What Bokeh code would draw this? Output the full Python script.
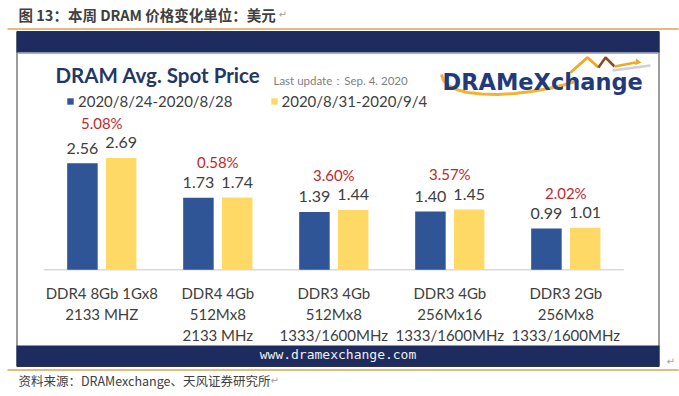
import numpy as np
from bokeh.plotting import figure
from bokeh.models import Range1d, ColumnDataSource, Legend, LegendItem, Label
from bokeh.core.properties import value
from bokeh.embed import file_html
from bokeh.resources import INLINE

# ---------------- data ----------------
categories = [
    "DDR4 8Gb 1Gx8\n2133 MHZ",
    "DDR4 4Gb\n512Mx8\n2133 MHz",
    "DDR3 4Gb\n512Mx8\n1333/1600MHz",
    "DDR3 4Gb\n256Mx16\n1333/1600MHz",
    "DDR3 2Gb\n256Mx8\n1333/1600MHz",
]
series_names = ["2020/8/24-2020/8/28", "2020/8/31-2020/9/4"]
prev_week = [2.56, 1.73, 1.39, 1.40, 0.99]
this_week = [2.69, 1.74, 1.44, 1.45, 1.01]
changes = ["5.08%", "0.58%", "3.60%", "3.57%", "2.02%"]

fig_title = "图 13：本周 DRAM 价格变化单位：美元"
source_note = "资料来源：DRAMexchange、天风证券研究所"
chart_title = "DRAM Avg. Spot Price"
update_note = "Last update：Sep. 4. 2020"
brand = "DRAMeXchange"
website = "www.dramexchange.com"

# ---------------- layout / style ----------------
W, H = 679, 396
PITCH = 116.0      # px per category
X0 = 101.3         # canvas x of first category centre
BASE = 269.3       # canvas y of value 0
PXU = 41.6         # px per unit
OFF = 0.167        # bar offset in category units
BW = 0.263         # bar width in category units

BLUE = "#2F5597"
YELLOW = "#FFD966"
NAVY = "#1D2B5E"
ORANGE = "#E5A150"
TXT = "#404040"
RED = "#C0282E"

p = figure(width=W, height=H, title=None,
           x_range=Range1d(-X0 / PITCH, (W - X0) / PITCH),
           y_range=Range1d(-(H - BASE) / PXU, BASE / PXU),
           output_backend="svg", toolbar_location=None,
           x_axis_location=None, y_axis_location=None,
           min_border=0, outline_line_color=None,
           background_fill_color="white", border_fill_color="white")
p.grid.visible = False
p.extra_x_ranges = {"px": Range1d(0, W)}
p.extra_y_ranges = {"px": Range1d(H, 0)}
PX = dict(x_range_name="px", y_range_name="px")

# ---------------- frame decorations ----------------
p.segment(x0=[7, 7], x1=[678, 678], y0=[28.5, 369.5], y1=[28.5, 369.5],
          line_color=ORANGE, line_width=1.5, **PX)
p.quad(left=[16.5], right=[658.5], top=[31], bottom=[366],
       fill_color="white", line_color="#3A3A3A", line_width=1, **PX)
p.quad(left=[16, 16], right=[659, 659], top=[31, 345], bottom=[52, 366],
       fill_color=NAVY, line_color=None, **PX)
p.segment(x0=[17], x1=[658], y0=[53], y1=[53], line_color="#A8AEC4", line_width=1, **PX)

# logo swoosh (drawn early, behind everything else)
swoosh_x = [441, 443, 448, 456, 467, 481, 497, 514, 531, 548, 563, 578]
swoosh_y = [74, 80, 85, 89, 92, 93.5, 94, 93, 91, 88, 84.5, 80]
p.line(x=swoosh_x, y=swoosh_y, line_color="#F2B233", line_width=3, **PX)
p.line(x=[612, 650], y=[70, 65], line_color="#D0D0D0", line_width=2.5, **PX)
p.line(x=[570, 587, 598], y=[72, 57, 67], line_color="#EFA92A", line_width=3, **PX)
p.line(x=[598, 605, 614], y=[67, 57, 66], line_color="#8B4A1E", line_width=2.5, **PX)
p.line(x=[614, 635], y=[66, 62], line_color="#EFA92A", line_width=2.5, **PX)
p.scatter(x=[637], y=[61.5], marker="triangle", angle=-1.75, size=7,
          fill_color="#EFA92A", line_color=None, **PX)

# baseline
idx = np.arange(len(categories))
p.segment(x0=[idx[0] - 0.5], x1=[idx[-1] + 0.5], y0=[0], y1=[0],
          line_color="#D9D9D9", line_width=1.5)

# ---------------- bars ----------------
src = ColumnDataSource(dict(
    x=idx, xa=idx - OFF, xb=idx + OFF,
    prev=prev_week, cur=this_week,
    prev_lbl=[f"{v:.2f}" for v in prev_week],
    cur_lbl=[f"{v:.2f}" for v in this_week],
    top=np.maximum(prev_week, this_week),
    chg=changes, cat=categories,
))
r1 = p.vbar(x="xa", top="prev", width=BW, source=src, fill_color=BLUE, line_color=None)
r2 = p.vbar(x="xb", top="cur", width=BW, source=src, fill_color=YELLOW, line_color=None)

lbl = dict(text_font=value("Lato"), text_font_size="16px", text_color=TXT,
           text_align="center", text_baseline="middle", y_offset=-15)
p.text(x="xa", y="prev", text="prev_lbl", source=src, **lbl)
p.text(x="xb", y="cur", text="cur_lbl", source=src, **lbl)
p.text(x="x", y="top", text="chg", source=src, text_font=value("Lato"),
       text_font_size="15px", text_color=RED, text_align="center",
       text_baseline="middle", y_offset=-35)

# category labels
p.text(x="x", y=283, text="cat", source=src, y_range_name="px",
       text_font=value("Lato"), text_font_size="15px", text_color=TXT,
       text_align="center", text_baseline="top", text_line_height=1.18)

# ---------------- legend ----------------
legend = Legend(items=[LegendItem(label=series_names[0], renderers=[r1]),
                       LegendItem(label=series_names[1], renderers=[r2])],
                orientation="horizontal", location=(66, H - 110),
                border_line_color=None, background_fill_alpha=0,
                padding=0, margin=0, spacing=37,
                glyph_width=8, glyph_height=8, label_standoff=4,
                label_height=16,
                label_text_font="Lato", label_text_font_size="15px",
                label_text_color=TXT)
p.add_layout(legend, "center")

# ---------------- logo text ----------------
p.text(x=[442], y=[81], text=[brand], text_font=value("DejaVu Sans"),
       text_font_style="bold", text_font_size="22.5px",
       text_color="#22397A", text_baseline="middle", **PX)

# ---------------- texts ----------------
p.add_layout(Label(x=18, y=14, text=fig_title, text_font="Noto Sans CJK SC",
                   text_font_style="bold", text_font_size="14.5px", text_color=TXT,
                   text_baseline="middle", **PX))
p.add_layout(Label(x=18, y=380, text=source_note, text_font="Noto Sans CJK SC",
                   text_font_size="12.5px", text_color=TXT,
                   text_baseline="middle", **PX))
p.add_layout(Label(x=55, y=74.5, text=chart_title, text_font="Lato",
                   text_font_style="bold", text_font_size="20.5px", text_color="#1F3864",
                   text_baseline="middle", **PX))
p.add_layout(Label(x=273, y=80, text=update_note, text_font="Lato",
                   text_font_size="11.5px", text_color="#7F7F7F",
                   text_baseline="middle", **PX))
p.add_layout(Label(x=337.5, y=354, text=website, text_font="DejaVu Sans Mono",
                   text_font_size="13px", text_color="#F0F0F0",
                   text_align="center", text_baseline="middle", **PX))
for (mx, my) in [(278, 14), (270, 380), (666, 361)]:
    p.add_layout(Label(x=mx, y=my, text="↵", text_font="DejaVu Sans",
                       text_font_size="10px", text_color="#A0A0A0",
                       text_baseline="middle", **PX))

open("out.html", "w").write(file_html(p, INLINE))
